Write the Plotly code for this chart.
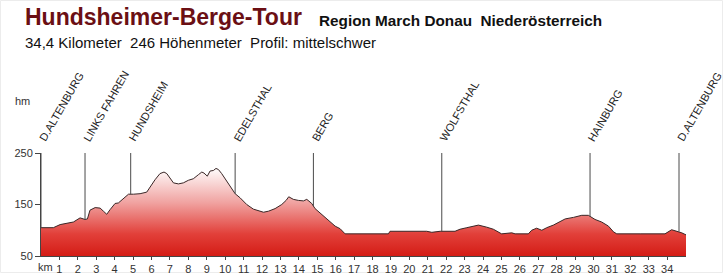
import numpy as np
import plotly.graph_objects as go

# ---- data -------------------------------------------------------------
km = [0, 0.67, 1.04, 1.40, 1.76, 2.12, 2.39, 2.52, 2.66, 2.94, 3.21, 3.39, 3.57, 3.75,
      4.02, 4.20, 4.47, 4.75, 5.02, 5.38, 5.74, 5.92, 6.19, 6.46, 6.68, 6.83, 7.01, 7.19,
      7.46, 7.73, 8.00, 8.27, 8.55, 8.73, 8.85, 9.03, 9.18, 9.36, 9.50, 9.63, 9.81, 10.08,
      10.36, 10.54, 10.81, 11.17, 11.53, 11.90, 12.08, 12.35, 12.71, 13.07, 13.31, 13.45,
      13.70, 13.97, 14.25, 14.43, 14.70, 14.88, 15.24, 15.60, 15.97, 16.24, 16.51, 17.32,
      18.86, 18.95, 20.04, 20.40, 20.94, 21.22, 21.67, 22.48, 22.75, 23.12, 23.75, 24.20,
      24.56, 25.01, 25.56, 25.74, 26.46, 26.64, 26.91, 27.19, 27.46, 27.82, 28.18, 28.46,
      28.91, 29.36, 29.72, 30.08, 30.44, 30.81, 31.08, 31.26, 32.53, 33.88, 34.24, 34.60,
      34.79, 35.02]
elev = [105, 105, 111, 113, 116, 124, 121, 122, 139, 144, 143, 137, 131, 140,
        152, 153, 161, 170, 170, 171, 174, 184, 198, 210, 213, 210, 200, 192,
        190, 192, 197, 200, 208, 213, 211, 205, 215, 216, 220, 218, 210, 196,
        181, 171, 163, 150, 141, 137, 135, 137, 142, 150, 158, 165,
        160, 158, 157, 160, 152, 142, 131, 119, 108, 103, 93, 93,
        93, 98, 98, 97, 98, 96, 98, 98, 102, 105, 110, 106,
        102, 93, 95, 93, 93, 100, 104, 100, 105, 110, 117, 122,
        125, 129, 129, 121, 116, 108, 97, 93, 93, 93, 101, 98,
        95, 91]

place_names = ["D.ALTENBURG", "LINKS FAHREN", "HUNDSHEIM", "EDELSTHAL", "BERG",
               "WOLFSTHAL", "HAINBURG", "D.ALTENBURG"]
place_km = [0, 2.39, 4.87, 10.54, 14.79, 21.76, 29.81, 34.64]

km_ticks = list(range(1, 35))
y_ticks = [50, 150, 250]

title = "Hundsheimer-Berge-Tour"
region = "Region March Donau\u00a0\u00a0Niederösterreich"
subtitle = "34,4 Kilometer\u00a0\u00a0246 Höhenmeter\u00a0\u00a0Profil: mittelschwer"

# ---- layout geometry -----------------------------------------------------
W, H = 726, 275
ML, MR, MT, MB = 41, 40, 153, 19
PW, PH = W - ML - MR, H - MT - MB


def px(x):
    return (x - ML) / PW


def py(y):
    return (H - MB - y) / PH


FONT = "Liberation Sans, Arial, sans-serif"

fig = go.Figure()

# profile with vertical gradient fill
fig.add_trace(go.Scatter(
    x=km, y=elev, mode="lines", fill="tozeroy",
    line=dict(color="#3a2626", width=1),
    fillgradient=dict(type="vertical", start=50, stop=222,
                      colorscale=[[0, "#d41c15"], [0.25, "#e2403a"],
                                  [0.6, "#f0a2a0"], [1, "#ffffff"]]),
    hoverinfo="skip", showlegend=False))

# place marker lines: from the 250 level down to the profile
mx, my = [], []
for k in place_km:
    mx += [k, k, None]
    my += [250, float(np.interp(k, km, elev)), None]
fig.add_trace(go.Scatter(x=mx, y=my, mode="lines",
                         line=dict(color="#4a4a4a", width=1),
                         hoverinfo="skip", showlegend=False))

ann = []
for name, k in zip(place_names, place_km):
    ann.append(dict(x=k, xref="x", y=1, yref="paper", text=name, showarrow=False,
                    textangle=-60, xanchor="left", yanchor="bottom",
                    xshift=-7, yshift=7,
                    font=dict(family=FONT, size=11, color="#222222")))

ann += [
    dict(x=px(23), y=py(17), xref="paper", yref="paper", text="<b>" + title + "</b>",
         showarrow=False, xanchor="left", yanchor="middle",
         font=dict(family=FONT, size=23, color="#6b0f14")),
    dict(x=px(317), y=py(20.5), xref="paper", yref="paper", text="<b>" + region + "</b>",
         showarrow=False, xanchor="left", yanchor="middle",
         font=dict(family=FONT, size=15.3, color="#111111")),
    dict(x=px(23), y=py(42), xref="paper", yref="paper", text=subtitle,
         showarrow=False, xanchor="left", yanchor="middle",
         font=dict(family=FONT, size=15, color="#111111")),
    dict(x=px(22), y=py(101), xref="paper", yref="paper", text="hm",
         showarrow=False, xanchor="center", yanchor="middle",
         font=dict(family=FONT, size=11, color="#333333")),
    dict(x=px(45.5), y=py(267), xref="paper", yref="paper", text="km",
         showarrow=False, xanchor="center", yanchor="middle",
         font=dict(family=FONT, size=11, color="#333333")),
]

fig.update_layout(
    width=W, height=H, margin=dict(l=ML, r=MR, t=MT, b=MB, autoexpand=False),
    paper_bgcolor="white", plot_bgcolor="white",
    showlegend=False, annotations=ann,
    shapes=[dict(type="rect", xref="paper", yref="paper",
                 x0=px(0.5), x1=px(722.5), y0=py(272.5), y1=py(0.5),
                 line=dict(color="#ececec", width=1), layer="below")],
    xaxis=dict(range=[0, km[-1]], showgrid=False, zeroline=False, automargin=False,
               showline=True, linecolor="#444444", linewidth=1,
               ticks="outside", ticklen=3, tickcolor="#444444",
               tickvals=km_ticks, ticktext=[str(t) for t in km_ticks],
               tickfont=dict(family=FONT, size=11, color="#333333")),
    yaxis=dict(range=[50, 250], showgrid=False, zeroline=False, automargin=False,
               showline=True, linecolor="#444444", linewidth=1,
               ticks="outside", ticklen=5, tickcolor="#444444",
               tickvals=y_ticks, ticktext=[str(t) for t in y_ticks],
               tickfont=dict(family=FONT, size=11, color="#333333")),
)

fig.write_html("out.html")
